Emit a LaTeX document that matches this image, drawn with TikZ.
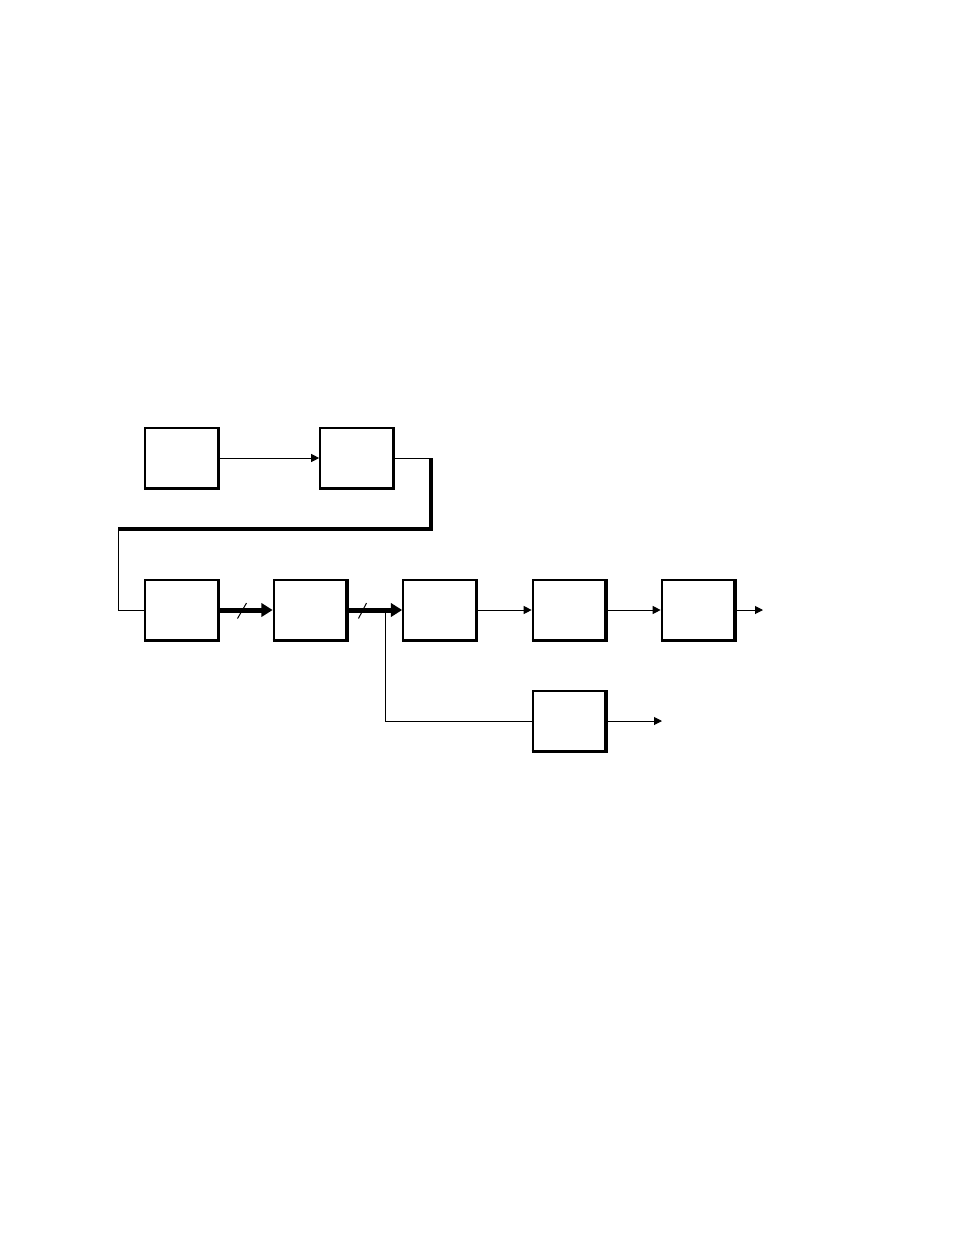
\documentclass[tikz,border=0pt]{standalone}
\usetikzlibrary{arrows.meta}

\tikzset{every picture/.style={line width=0.75pt}}
\tikzset{
  blockbox/.style={draw, fill=white, line width=1.5pt, minimum width=54.5pt, minimum height=44.5pt, inner sep=0pt,
    append after command={\pgfextra{\draw[line width=2.25pt, line join=miter] (\tikzlastnode.south west) -- (\tikzlastnode.south east) -- (\tikzlastnode.north east);}}},
  sigline/.style={line width=0.75pt, -{Triangle[length=6pt,width=6pt]}},
  busline/.style={line width=3.75pt, -{Triangle[length=8.5pt,width=10pt]}},
  busslash/.style={line width=0.75pt}
}

\begin{document}
\begin{tikzpicture}[x=0.75pt,y=0.75pt,yscale=-1,xscale=1]
%set diagram size to the full page
\useasboundingbox (0,0) rectangle (954,1235);

%Blocks, top row
\node [blockbox] (srcA) at (181.5,458) {};
\node [blockbox] (srcB) at (356.5,458) {};
%Blocks, main chain
\node [blockbox] (stgC) at (181.5,610) {};
\node [blockbox] (stgD) at (310,610) {};
\node [blockbox] (stgE) at (439.5,610) {};
\node [blockbox] (stgF) at (569,610) {};
\node [blockbox] (stgG) at (698,610) {};
%Block, side branch
\node [blockbox] (stgH) at (569,721) {};

%Routing points
\coordinate (fbR) at (431,458);
\coordinate (fbRD) at (431,529);
\coordinate (fbLD) at (118,529);
\coordinate (fbL) at (118,610);
\coordinate (tap) at (385,610);
\coordinate (outG) at (763,610);
\coordinate (outH) at (662,721);

%Top row link
\draw [sigline] (srcA.east) -- (srcB.west);
%Feedback route down to main chain
\draw (srcB.east) -- (fbR);
\draw [line width=3pt, line join=miter] (fbR) -- (fbRD) -- (fbLD);
\draw (fbLD) -- (fbL) -- (stgC.west);

%Bus links with slash marks
\draw [busline] (stgC.east) -- (stgD.west);
\draw [busslash] (237.5,618.5) -- (246.5,603);
\draw [busline] (stgD.east) -- (stgE.west);
\draw [busslash] (358.5,618.5) -- (366.5,603);

%Signal links
\draw [sigline] (stgE.east) -- (stgF.west);
\draw [sigline] (stgF.east) -- (stgG.west);
\draw [sigline] (stgG.east) -- (outG);
%Branch from bus
\draw (tap) |- (stgH.west);
\draw [sigline] (stgH.east) -- (outH);

\end{tikzpicture}
\end{document}
